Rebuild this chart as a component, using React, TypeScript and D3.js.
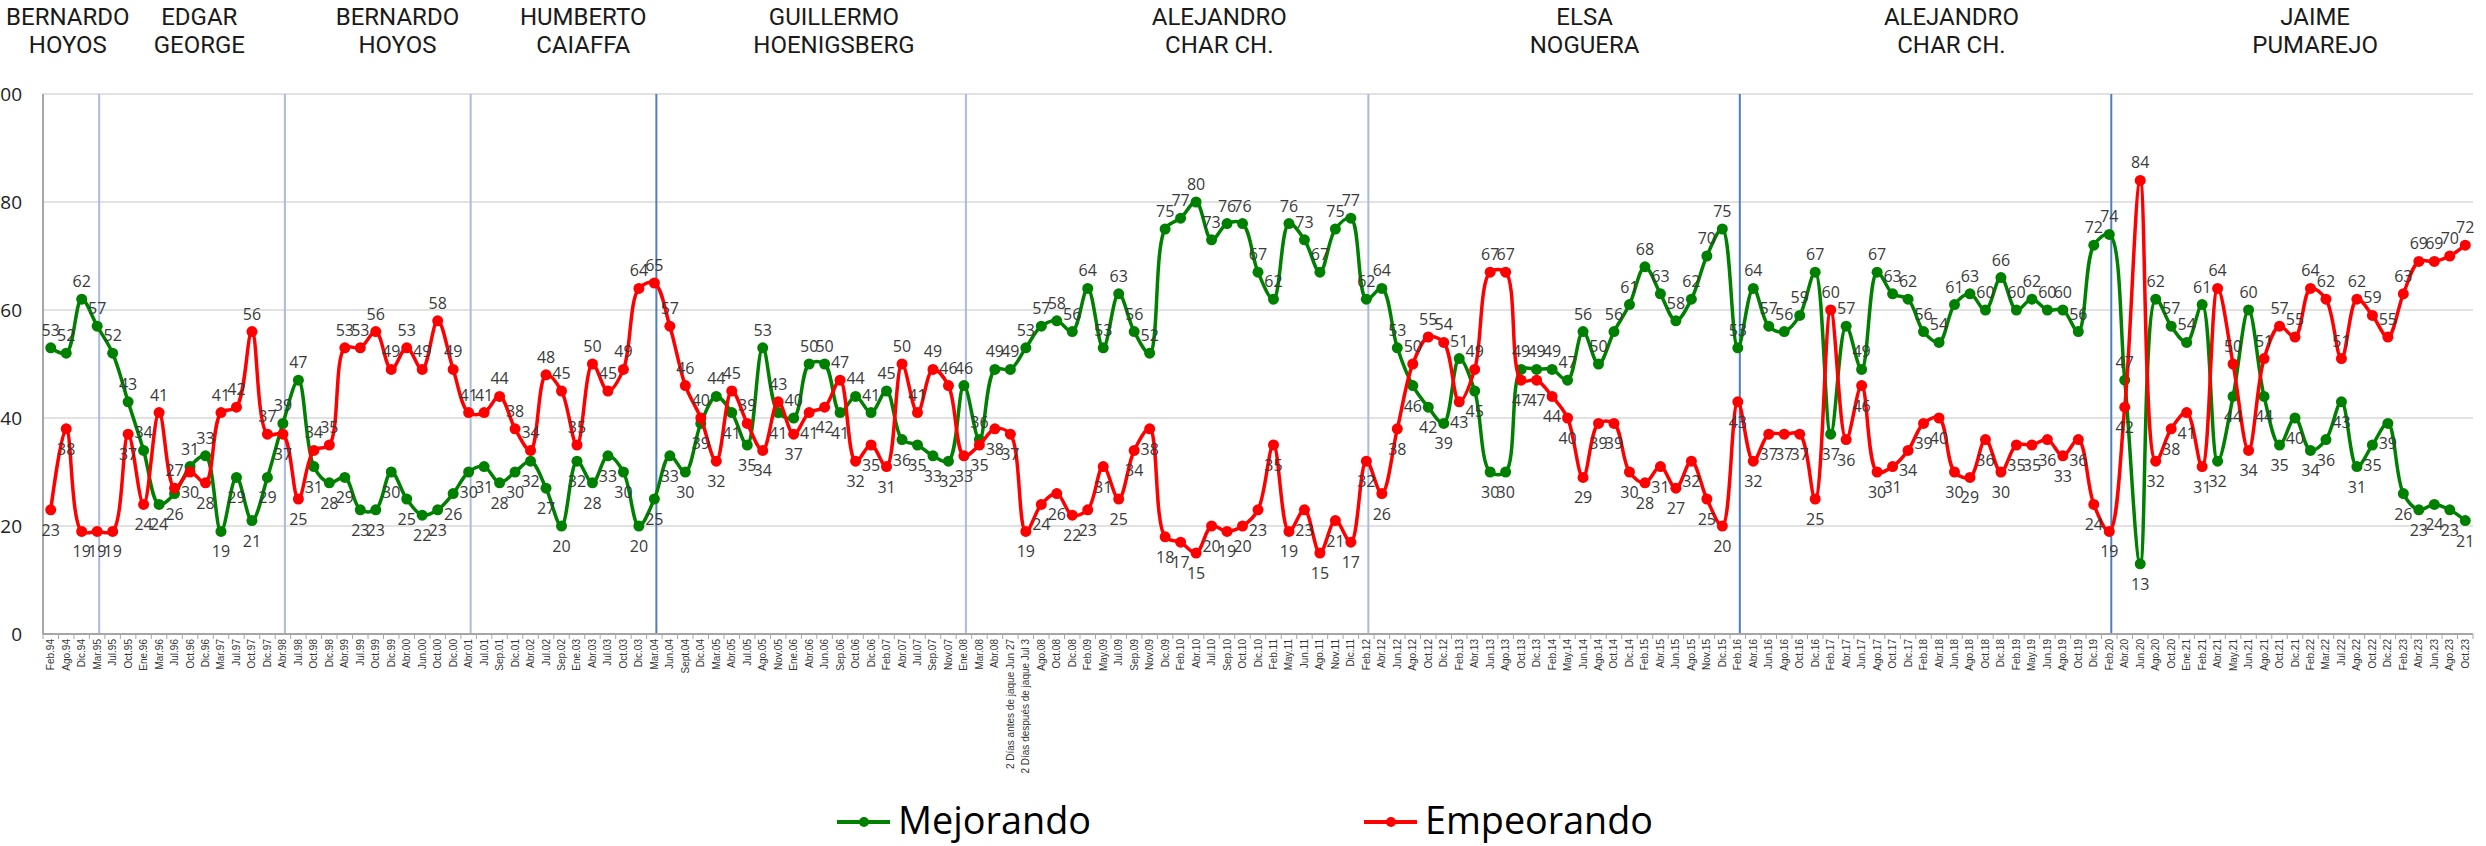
import React from "react";
import * as d3 from "d3";

// survey dates (category axis)
const categories = [
  "Feb.94", "Ago.94", "Dic.94", "Mar.95", "Jul.95", "Oct.95", "Ene.96", "Mar.96", "Jul.96", "Oct.96", "Dic.96", "Mar.97", "Jul.97",
  "Oct.97", "Dic.97", "Abr.98", "Jul.98", "Oct.98", "Dic.98", "Abr.99", "Jul.99", "Oct.99", "Dic.99", "Abr.00", "Jun.00", "Oct.00", "Dic.00",
  "Abr.01", "Jul.01", "Sep.01", "Dic.01", "Abr.02", "Jul.02", "Sep.02", "Ene.03", "Abr.03", "Jul.03", "Oct.03", "Dic.03", "Mar.04", "Jun.04",
  "Sept.04", "Dic.04", "Mar.05", "Abr.05", "Jul.05", "Ago.05", "Nov.05", "Ene.06", "Abr.06", "Jun.06", "Sep.06", "Oct.06", "Dic.06", "Feb.07",
  "Abr.07", "Jul.07", "Sep.07", "Nov.07", "Ene.08", "Mar.08", "Abr.08", "2 Días antes de jaque Jun 27", "2 Días después de jaque Jul 3", "Ago.08", "Oct.08", "Dic.08", "Feb.09", "May.09", "Jul.09",
  "Sep.09", "Nov.09", "Dic.09", "Feb.10", "Abr.10", "Jul.10", "Sep.10", "Oct.10", "Dic.10", "Feb.11", "May.11", "Jun.11", "Ago.11", "Nov.11", "Dic.11",
  "Feb.12", "Abr.12", "Jun.12", "Ago.12", "Oct.12", "Dic.12", "Feb.13", "Abr.13", "Jun.13", "Ago.13", "Oct.13", "Dic.13", "Feb.14",
  "May.14", "Jun.14", "Ago.14", "Oct.14", "Dic.14", "Feb.15", "Abr.15", "Jun.15", "Ago.15", "Nov.15", "Dic.15", "Feb.16", "Abr.16", "Jun.16",
  "Ago.16", "Oct.16", "Dic.16", "Feb.17", "Abr.17", "Jun.17", "Ago.17", "Oct.17", "Dic.17", "Feb.18", "Abr.18", "Jun.18", "Ago.18", "Oct.18", "Dic.18",
  "Feb.19", "May.19", "Jun.19", "Ago.19", "Oct.19", "Dic.19", "Feb.20", "Abr.20", "Jun.20", "Ago.20", "Oct.20", "Ene.21", "Feb.21",
  "Abr.21", "May.21", "Jun.21", "Ago.21", "Oct.21", "Dic.21", "Feb.22", "Mar.22", "Jul.22", "Ago.22", "Oct.22", "Dic.22", "Feb.23", "Abr.23", "Jun.23", "Ago.23", "Oct.23",
];

const mejorando = [
  53, 52, 62, 57, 52, 43, 34, 24, 26, 31, 33, 19, 29,
  21, 29, 39, 47, 31, 28, 29, 23, 23, 30, 25, 22, 23, 26,
  30, 31, 28, 30, 32, 27, 20, 32, 28, 33, 30, 20, 25, 33,
  30, 39, 44, 41, 35, 53, 41, 40, 50, 50, 41, 44, 41, 45,
  36, 35, 33, 32, 46, 36, 49, 49, 53, 57, 58, 56, 64, 53, 63,
  56, 52, 75, 77, 80, 73, 76, 76, 67, 62, 76, 73, 67, 75, 77,
  62, 64, 53, 46, 42, 39, 51, 45, 30, 30, 49, 49, 49,
  47, 56, 50, 56, 61, 68, 63, 58, 62, 70, 75, 53, 64, 57,
  56, 59, 67, 37, 57, 49, 67, 63, 62, 56, 54, 61, 63, 60, 66,
  60, 62, 60, 60, 56, 72, 74, 47, 13, 62, 57, 54, 61,
  32, 44, 60, 44, 35, 40, 34, 36, 43, 31, 35, 39, 26, 23, 24, 23, 21,
];

const empeorando = [
  23, 38, 19, 19, 19, 37, 24, 41, 27, 30, 28, 41, 42,
  56, 37, 37, 25, 34, 35, 53, 53, 56, 49, 53, 49, 58, 49,
  41, 41, 44, 38, 34, 48, 45, 35, 50, 45, 49, 64, 65, 57,
  46, 40, 32, 45, 39, 34, 43, 37, 41, 42, 47, 32, 35, 31,
  50, 41, 49, 46, 33, 35, 38, 37, 19, 24, 26, 22, 23, 31, 25,
  34, 38, 18, 17, 15, 20, 19, 20, 23, 35, 19, 23, 15, 21, 17,
  32, 26, 38, 50, 55, 54, 43, 49, 67, 67, 47, 47, 44,
  40, 29, 39, 39, 30, 28, 31, 27, 32, 25, 20, 43, 32, 37,
  37, 37, 25, 60, 36, 46, 30, 31, 34, 39, 40, 30, 29, 36, 30,
  35, 35, 36, 33, 36, 24, 19, 42, 84, 32, 38, 41, 31,
  64, 50, 34, 51, 57, 55, 64, 62, 51, 62, 59, 55, 63, 69, 69, 70, 72,
];

const yTicks = [0, 20, 40, 60, 80, 100];

// mayors and the survey where each term starts
const mayors = [
  ["BERNARDO", "HOYOS"],
  ["EDGAR", "GEORGE"],
  ["BERNARDO", "HOYOS"],
  ["HUMBERTO", "CAIAFFA"],
  ["GUILLERMO", "HOENIGSBERG"],
  ["ALEJANDRO", "CHAR CH."],
  ["ELSA", "NOGUERA"],
  ["ALEJANDRO", "CHAR CH."],
  ["JAIME", "PUMAREJO"],
];
const termStarts = ["Mar.95", "Abr.98", "Abr.01", "Mar.04", "Ene.08", "Feb.12", "Feb.16", "Feb.20"];
const strongTerms = ["Mar.04", "Feb.16", "Feb.20"];

// where each title sits, in category units
const titleAt = [1.1, 9.6, 22.4, 34.4, 50.6, 75.5, 99.1, 122.8, 146.3];

const W = 2486;
const H = 846;
const margin = { left: 43, right: 13, top: 94, bottom: 212 };

const GREEN = "#008000";
const RED = "#ff0000";

export default function App() {
  const n = categories.length;
  const x = d3
    .scaleBand<number>()
    .domain(d3.range(n))
    .range([margin.left, W - margin.right])
    .padding(0);
  const cx = (i: number) => (x(i) as number) + x.bandwidth() / 2;
  const xf = d3.scaleLinear().domain([0, n - 1]).range([cx(0), cx(n - 1)]);
  const y = d3.scaleLinear().domain([0, 100]).range([H - margin.bottom, margin.top]);

  const line = d3
    .line<number>()
    .x((_, i) => cx(i))
    .y((d) => y(d))
    .curve(d3.curveCatmullRom.alpha(0.5));

  const series = [
    { name: "Mejorando", values: mejorando, other: empeorando, color: GREEN },
    { name: "Empeorando", values: empeorando, other: mejorando, color: RED },
  ];

  const x0 = margin.left;
  const x1 = W - margin.right;
  const yBase = y(0);

  return (
    <svg
      width={W}
      height={H}
      style={{ position: "absolute", left: 0, top: 0, background: "#fff" }}
    >
      {/* gridlines */}
      {yTicks.map((t) => (
        <line key={t} x1={x0} x2={x1} y1={y(t)} y2={y(t)} stroke="#d9d9d9" strokeWidth={1.5} />
      ))}
      {/* y tick labels (the reference clips the "1" of 100 at the left edge) */}
      {yTicks.map((t) => (
        <text
          key={"l" + t}
          x={22}
          y={y(t)}
          dy="0.35em"
          textAnchor="end"
          fontFamily="Open Sans, sans-serif"
          fontSize={19}
          fill="#222"
        >
          {t}
        </text>
      ))}

      {/* term dividers */}
      {termStarts.map((c) => {
        const i = categories.indexOf(c);
        const strong = strongTerms.includes(c);
        return (
          <line
            key={c}
            x1={cx(i) + 2}
            x2={cx(i) + 2}
            y1={y(100)}
            y2={yBase}
            stroke={strong ? "#4f7fc0" : "#a9bbe2"}
            strokeWidth={2}
          />
        );
      })}

      {/* axes */}
      <line x1={x0} x2={x0} y1={y(100)} y2={yBase} stroke="#a6a6a6" strokeWidth={2} />
      <line x1={x0} x2={x1} y1={yBase} y2={yBase} stroke="#a6a6a6" strokeWidth={2} />
      {d3.range(n + 1).map((i) => {
        const tx = i < n ? (x(i) as number) : x1;
        return <line key={"t" + i} x1={tx} x2={tx} y1={yBase} y2={yBase + 5} stroke="#a6a6a6" strokeWidth={1} />;
      })}
      {categories.map((c, i) => (
        <text
          key={"c" + i}
          transform={`translate(${cx(i)},${yBase + 5}) rotate(-90)`}
          dy="0.35em"
          textAnchor="end"
          fontFamily="Liberation Sans Narrow, Arial Narrow, sans-serif"
          fontSize={10}
          fill="#333"
        >
          {c}
        </text>
      ))}

      {/* mayor titles */}
      {mayors.map((m, k) => (
        <text
          key={"m" + k}
          x={xf(titleAt[k])}
          textAnchor="middle"
          fontFamily="Roboto, sans-serif"
          fontSize={24}
          fill="#1a1a1a"
        >
          <tspan x={xf(titleAt[k])} y={25}>{m[0]}</tspan>
          <tspan x={xf(titleAt[k])} y={53}>{m[1]}</tspan>
        </text>
      ))}

      {/* lines and markers */}
      {series.map((s) => (
        <g key={s.name}>
          <path d={line(s.values) || ""} fill="none" stroke={s.color} strokeWidth={3.5} />
          {s.values.map((v, i) => (
            <circle key={i} cx={cx(i)} cy={y(v)} r={5.5} fill={s.color} />
          ))}
        </g>
      ))}

      {/* data labels */}
      {series.map((s, si) => (
        <g key={"dl" + s.name}>
          {s.values.map((v, i) => {
            const above = si === 0 ? v >= s.other[i] : v > s.other[i];
            return (
              <text
                key={i}
                x={cx(i)}
                y={above ? y(v) - 12 : y(v) + 26}
                textAnchor="middle"
                fontFamily="Open Sans, sans-serif"
                fontSize={16}
                fill="#3a3a3a"
              >
                {v}
              </text>
            );
          })}
        </g>
      ))}

      {/* legend */}
      {[
        { s: series[0], lx: 837, tx: 898, tl: 193 },
        { s: series[1], lx: 1364, tx: 1425, tl: 228 },
      ].map(({ s, lx, tx, tl }) => (
        <g key={"lg" + s.name}>
          <line x1={lx} x2={lx + 53} y1={822} y2={822} stroke={s.color} strokeWidth={4} />
          <circle cx={lx + 27} cy={822} r={5} fill={s.color} />
          <text
            x={tx}
            y={834}
            fontFamily="Open Sans, sans-serif"
            fontSize={38}
            textLength={tl}
            lengthAdjust="spacingAndGlyphs"
            fill="#000"
          >
            {s.name}
          </text>
        </g>
      ))}
    </svg>
  );
}
